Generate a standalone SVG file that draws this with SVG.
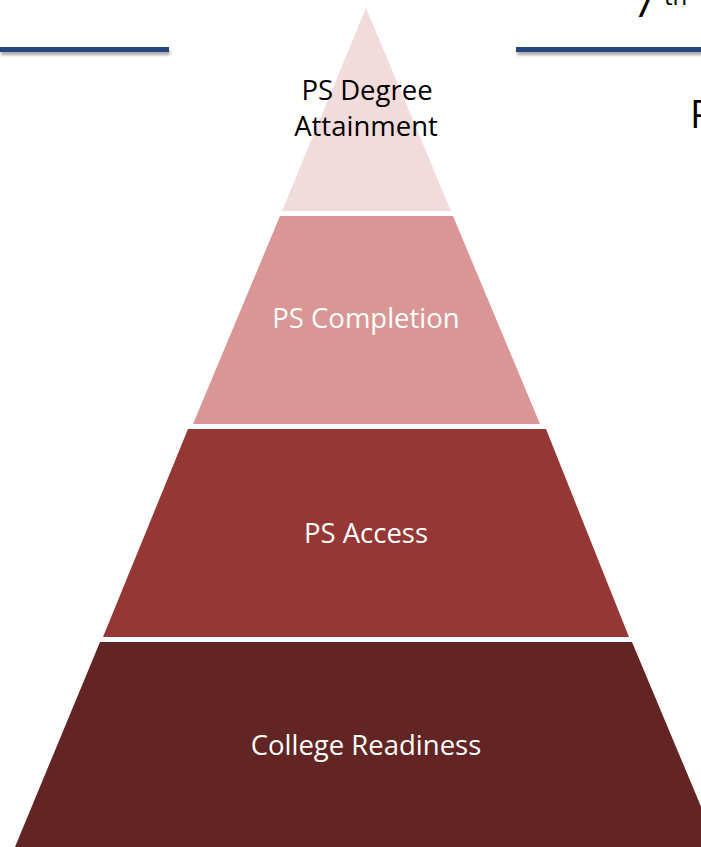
<svg xmlns="http://www.w3.org/2000/svg" width="701" height="847" viewBox="0 0 701 847">
  <style>
    .lbl { font-family: "Open Sans", "Liberation Sans", sans-serif; font-size: 27.5px; text-anchor: middle; }
    .dark { fill: #000000; }
    .light { fill: #FFFFFF; }
    .rule { fill: #23497F; }
    .bg { font-family: "Open Sans", "Liberation Sans", sans-serif; fill: #000000; }
  </style>
  <defs>
    <filter id="shadow" x="-5%" y="-200%" width="110%" height="500%">
      <feDropShadow dx="1" dy="3" stdDeviation="1.5" flood-color="#000000" flood-opacity="0.35"/>
    </filter>
  </defs>
  <rect width="701" height="847" fill="#FFFFFF"/>

  <g id="background">
    <rect class="rule" x="0" y="47" width="169" height="5" filter="url(#shadow)"/>
    <rect class="rule" x="516" y="47" width="190" height="5" filter="url(#shadow)"/>
    <text class="bg" x="633" y="17" font-size="40">7</text>
    <text class="bg" x="664" y="5" font-size="24">th</text>
    <text class="bg" x="690" y="128" font-size="38">P</text>
  </g>

  <g id="connectors"/>

  <g id="layer-degree">
    <polygon points="366,8 451,211 282,211" fill="#F2DCDB"/>
    <text class="lbl dark" x="367" y="100">PS Degree</text>
    <text class="lbl dark" x="366" y="136">Attainment</text>
  </g>

  <g id="layer-completion">
    <polygon points="280,216 453,216 540,424 193,424" fill="#D99694"/>
    <text class="lbl light" x="366" y="328">PS Completion</text>
  </g>

  <g id="layer-access">
    <polygon points="188,429 546,429 629,637 103,637" fill="#953735"/>
    <text class="lbl light" x="366" y="543">PS Access</text>
  </g>

  <g id="layer-readiness">
    <polygon points="100,642 632,642 718,847 15,847" fill="#632523"/>
    <text class="lbl light" x="366" y="755">College Readiness</text>
  </g>
</svg>
